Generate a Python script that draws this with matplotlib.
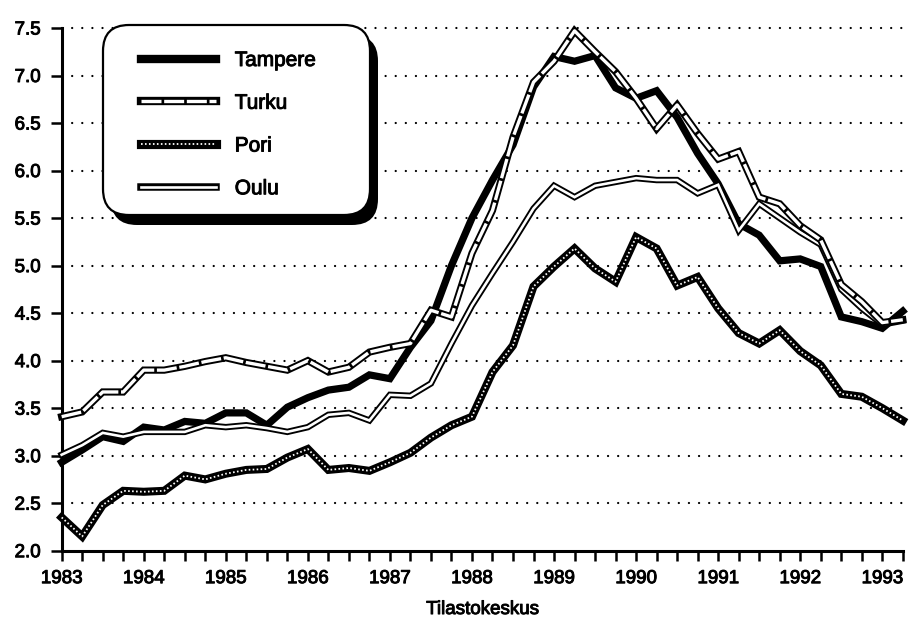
import numpy as np
import matplotlib
matplotlib.use("Agg")
import matplotlib.pyplot as plt
import matplotlib.patheffects as pe
from matplotlib.patches import FancyBboxPatch
from matplotlib.ticker import MultipleLocator, FormatStrFormatter

plt.rcParams['font.family'] = ['Liberation Sans', 'DejaVu Sans']

# quarterly observations, 1983 Q1 .. 1993 Q2
quarters = 1983 + np.arange(42) * 0.25

tampere = [2.93, 3.06, 3.20, 3.15, 3.30, 3.27, 3.36, 3.34, 3.45, 3.45,
           3.32, 3.51, 3.61, 3.69, 3.72, 3.85, 3.81, 4.14, 4.42, 5.00,
           5.50, 5.90, 6.27, 6.88, 7.20, 7.15, 7.21, 6.87, 6.76, 6.84,
           6.56, 6.18, 5.86, 5.44, 5.32, 5.05, 5.07, 4.99, 4.46, 4.41,
           4.34, 4.52]
turku = [3.41, 3.46, 3.67, 3.67, 3.90, 3.90, 3.94, 3.99, 4.03, 3.98,
         3.94, 3.90, 4.00, 3.88, 3.93, 4.09, 4.14, 4.18, 4.53, 4.46,
         5.13, 5.58, 6.35, 6.93, 7.15, 7.47, 7.25, 7.04, 6.76, 6.44,
         6.69, 6.39, 6.12, 6.20, 5.72, 5.65, 5.42, 5.27, 4.80, 4.62,
         4.40, 4.43]
pori = [2.35, 2.15, 2.48, 2.63, 2.62, 2.63, 2.79, 2.75, 2.81, 2.85,
        2.86, 2.98, 3.07, 2.85, 2.87, 2.84, 2.93, 3.03, 3.19, 3.32,
        3.41, 3.88, 4.16, 4.78, 4.99, 5.18, 4.97, 4.83, 5.30, 5.18,
        4.79, 4.88, 4.55, 4.29, 4.18, 4.32, 4.10, 3.95, 3.65, 3.62,
        3.50, 3.37]
oulu = [3.01, 3.11, 3.24, 3.20, 3.25, 3.25, 3.25, 3.32, 3.30, 3.32,
        3.29, 3.25, 3.30, 3.43, 3.45, 3.37, 3.64, 3.63, 3.76, 4.18,
        4.58, 4.92, 5.25, 5.60, 5.84, 5.72, 5.84, 5.88, 5.92, 5.90,
        5.90, 5.76, 5.85, 5.37, 5.65, 5.50, 5.35, 5.22, 4.75, 4.55,
        4.38, 4.42]

labels = ["Tampere", "Turku", "Pori", "Oulu"]
year_ticks = list(range(1983, 1994))
y_ticks = [2.0, 2.5, 3.0, 3.5, 4.0, 4.5, 5.0, 5.5, 6.0, 6.5, 7.0, 7.5]

# slight ink spread for the scanned look of the text
ink = [pe.withStroke(linewidth=0.7, foreground="black")]

fig = plt.figure(figsize=(9.11, 6.26), dpi=100)
ax = fig.add_axes([0.0677, 0.1203, 0.9233, 0.835])
ax.set_xlim(1983, 1993.25)
ax.set_ylim(2.0, 7.5)

# dotted horizontal grid
for v in y_ticks[1:]:
    ax.axhline(v, color="black", lw=1.6, ls=(0, (0.05, 4.5)), dash_capstyle="round",
               clip_on=False, zorder=1)

kw = dict(solid_joinstyle="miter", clip_on=False)

# Tampere: heavy solid
l_tam, = ax.plot(quarters, tampere, color="black", lw=5.2, zorder=3, **kw)
# Oulu: plain double line
l_ou1, = ax.plot(quarters, oulu, color="black", lw=4.6, zorder=4, **kw)
l_ou2, = ax.plot(quarters, oulu, color="white", lw=1.9, zorder=4, **kw)
# Turku: double line with dashed interior
l_tu1, = ax.plot(quarters, turku, color="black", lw=5.2, zorder=5, **kw)
l_tu2, = ax.plot(quarters, turku, color="white", lw=2.4, dashes=(6, 0.8), zorder=5, **kw)
# Pori: heavy line with white dots
l_po1, = ax.plot(quarters, pori, color="black", lw=5.8, zorder=6, **kw)
l_po2, = ax.plot(quarters, pori, color="white", lw=1.3, dashes=(0.9, 1.3), zorder=6, **kw)

# axes styling
for s in ["top", "right"]:
    ax.spines[s].set_visible(False)
for s in ["left", "bottom"]:
    ax.spines[s].set_linewidth(2.2)
ax.set_xticks(year_ticks)
ax.xaxis.set_minor_locator(MultipleLocator(0.25))
ax.set_yticks(y_ticks)
ax.yaxis.set_major_formatter(FormatStrFormatter("%.1f"))
ax.tick_params(axis="x", which="both", direction="out", length=7, width=1.8, pad=7, labelsize=13.5)
ax.tick_params(axis="y", which="major", direction="out", length=8, width=1.8, pad=7, labelsize=13.5)
for t in ax.get_xticklabels() + ax.get_yticklabels():
    t.set_path_effects(ink)
ax.set_xlabel("Tilastokeskus", fontsize=13.5, labelpad=10, path_effects=ink)

# legend box with hard black shadow
tr = fig.dpi_scale_trans
shadow = FancyBboxPatch((1.11, 4.01), 2.67, 1.90, boxstyle="round,pad=0,rounding_size=0.26",
                        transform=tr, facecolor="black", edgecolor="black", lw=0,
                        clip_on=False, zorder=8)
box = FancyBboxPatch((1.03, 4.11), 2.67, 1.90, boxstyle="round,pad=0,rounding_size=0.26",
                     transform=tr, facecolor="white", edgecolor="black", lw=1.6,
                     clip_on=False, zorder=9)
ax.add_patch(shadow)
ax.add_patch(box)

leg = ax.legend([l_tam, (l_tu1, l_tu2), (l_po1, l_po2), (l_ou1, l_ou2)], labels,
                loc="upper left", bbox_to_anchor=(1.41, 5.75), bbox_transform=tr,
                frameon=False, fontsize=15, handlelength=3.6, handletextpad=0.9,
                labelspacing=1.14, borderpad=0, borderaxespad=0)
leg.set_zorder(10)
for t in leg.get_texts():
    t.set_path_effects(ink)
for h in leg.legend_handles:
    if h.get_color() == "black":
        h.set_linewidth(h.get_linewidth() + 0.8)

fig.savefig("out.png", dpi=100)
